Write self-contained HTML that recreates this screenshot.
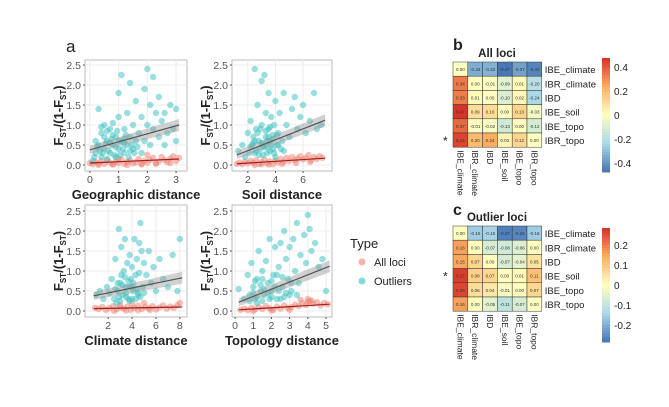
<!DOCTYPE html>
<html><head><meta charset="utf-8"><style>
body{margin:0;background:#fff;}
svg{font-family:"Liberation Sans",sans-serif;}
</style></head><body>
<svg id="s" width="669" height="402" viewBox="0 0 669 402">
<text x="66" y="52" font-size="17" fill="#222">a</text>
<text x="453" y="50" font-size="16" font-weight="bold" fill="#222">b</text>
<text x="453" y="215" font-size="16" font-weight="bold" fill="#222">c</text>
<g>
<text x="350" y="248" font-size="13" fill="#222">Type</text>
<circle cx="362" cy="262" r="3.5" fill="#f08070" opacity="0.6"/>
<text x="374" y="266" font-size="11" fill="#222">All loci</text>
<circle cx="362" cy="281" r="3.5" fill="#35c0c0" opacity="0.6"/>
<text x="374" y="285" font-size="11" fill="#222">Outliers</text>
</g>
</svg>
<script>
// ---------- scatter data ----------
const p1OutX=[0.1,0.2,0.3,0.3,0.4,0.4,0.5,0.5,0.6,0.6,0.7,0.7,0.8,0.8,0.9,0.9,1.0,1.0,1.0,1.1,1.1,1.2,1.2,1.3,1.3,1.4,1.4,1.5,1.5,1.6,1.6,1.7,1.8,1.8,1.9,1.9,2.0,2.0,2.1,2.1,2.2,2.2,2.3,2.4,2.4,2.5,2.6,2.6,2.7,2.8,2.9,3.0,3.0,0.2,0.5,0.7,0.9,1.2,0.35,1.05,0.15,0.25,0.45,0.55,0.65,0.75,0.85,0.95,1.15,1.25,1.35,1.45,1.55,1.65,0.4,0.6,0.8,1.0,1.2,1.4];
const p1OutY=[0.1,0.3,0.5,1.4,0.2,0.8,0.4,1.0,0.6,0.15,0.9,0.3,0.5,1.05,0.7,0.2,0.4,1.2,1.8,0.6,2.25,0.3,0.9,0.5,1.3,0.7,2.05,0.4,1.0,0.6,1.6,0.8,1.2,0.3,1.9,0.6,2.4,1.0,1.5,0.5,2.2,0.9,1.3,0.7,1.7,1.1,0.5,1.3,0.8,1.5,0.9,1.4,0.6,0.6,0.7,0.55,0.45,0.55,0.35,0.25,0.2,0.45,0.3,0.55,0.35,0.65,0.25,0.85,0.4,0.75,0.2,0.5,0.3,0.45,0.95,0.85,0.75,0.6,0.65,0.35];
const p1AllX=[0.0,0.1,0.2,0.3,0.4,0.5,0.6,0.7,0.8,0.9,1.0,1.1,1.2,1.3,1.4,1.5,1.6,1.7,1.8,1.9,2.0,2.1,2.2,2.3,2.4,2.5,2.6,2.7,2.8,2.9,3.0,3.1,0.3,0.8,1.3,1.8,2.3,2.8,1.0,2.0];
const p1AllY=[0.05,0.02,0.08,0.04,0.1,0.03,0.12,0.06,0.02,0.09,0.05,0.14,0.03,0.08,0.11,0.04,0.07,0.15,0.02,0.1,0.06,0.13,0.18,0.05,0.09,0.2,0.12,0.07,0.16,0.22,0.1,0.18,0.0,0.01,0.0,0.02,0.03,0.05,0.15,0.25];
const p2OutX=[1.3,1.6,1.8,2.0,2.1,2.2,2.3,2.4,2.5,2.5,2.6,2.7,2.8,2.9,3.0,3.0,3.1,3.2,3.3,3.3,3.4,3.5,3.5,3.6,3.7,3.8,3.9,4.0,4.1,4.2,4.3,4.5,4.6,4.8,5.0,5.2,5.4,5.6,5.8,6.0,6.2,6.5,6.8,7.0,7.3,2.8,3.2,3.6,4.0,2.4,3.4,3.8,2.2,2.6,3.0,3.4,3.8,4.2,2.7,3.1,3.5,3.9,4.4,2.9,3.3,3.7,4.1,2.5,3.6,4.6];
const p2OutY=[0.35,0.5,0.2,0.8,0.3,1.1,0.5,0.7,2.4,0.3,0.9,1.5,0.6,0.4,2.1,1.0,0.5,2.25,0.7,1.3,0.3,1.8,0.9,0.6,1.2,0.4,1.0,1.6,0.5,0.8,1.3,0.6,1.8,1.0,0.7,1.4,1.7,0.9,1.2,1.5,0.8,1.1,1.8,0.9,1.0,0.25,0.45,0.35,0.2,0.55,0.6,0.75,0.45,0.35,0.55,0.45,0.65,0.5,0.8,0.25,0.7,0.3,0.4,0.9,0.85,0.5,0.75,0.6,0.95,0.35];
const p2AllX=[1.2,1.4,1.6,1.8,2.0,2.2,2.4,2.6,2.8,3.0,3.2,3.4,3.6,3.8,4.0,4.2,4.4,4.6,4.8,5.0,5.2,5.4,5.6,5.8,6.0,6.2,6.4,6.6,6.8,7.0,7.2,7.4,2.5,3.5,4.5,5.5,6.5,3.0];
const p2AllY=[0.03,0.06,0.02,0.08,0.04,0.1,0.05,0.12,0.03,0.07,0.14,0.05,0.09,0.02,0.11,0.06,0.15,0.08,0.18,0.1,0.2,0.12,0.16,0.22,0.14,0.18,0.25,0.12,0.2,0.15,0.22,0.18,0.0,0.01,0.03,0.05,0.08,0.02];
const p3OutX=[1.0,1.3,1.6,1.9,2.1,2.3,2.5,2.6,2.8,2.9,3.0,3.1,3.2,3.3,3.4,3.5,3.6,3.7,3.8,3.9,4.0,4.1,4.2,4.3,4.4,4.5,4.6,4.7,4.8,4.9,5.0,5.2,5.4,5.6,5.8,6.0,6.3,6.6,7.0,7.4,7.8,8.0,3.0,3.5,4.0,4.5,2.7,3.8,2.6,2.9,3.2,3.5,3.8,4.1,4.4,4.7,5.0,3.1,3.4,3.7,4.0,4.3,4.6,2.8];
const p3OutY=[0.4,0.5,0.3,0.6,0.45,0.8,0.3,1.3,0.5,2.05,0.7,1.6,0.4,1.0,1.8,0.6,1.2,0.3,1.4,0.8,1.1,0.5,1.8,0.9,1.3,0.4,1.7,2.2,1.5,0.6,1.2,0.9,1.5,0.7,1.1,0.5,1.3,0.8,0.6,1.4,0.5,1.8,0.25,0.35,0.3,0.45,0.2,0.6,0.55,0.35,0.65,0.45,0.25,0.7,0.55,0.35,0.45,0.9,0.85,0.75,0.6,0.3,0.95,0.7];
const p3AllX=[0.9,1.2,1.5,1.8,2.1,2.4,2.7,3.0,3.3,3.6,3.9,4.2,4.5,4.8,5.1,5.4,5.7,6.0,6.3,6.6,6.9,7.2,7.5,7.8,8.0,2.5,3.5,4.5,5.5,3.0,4.0,5.0];
const p3AllY=[0.08,0.05,0.1,0.03,0.07,0.12,0.04,0.09,0.06,0.11,0.03,0.08,0.13,0.05,0.1,0.07,0.12,0.04,0.09,0.14,0.06,0.11,0.08,0.15,0.2,0.0,0.01,0.02,0.03,0.15,0.18,0.2];
const p4OutX=[0.2,0.5,0.7,0.8,0.9,1.0,1.1,1.2,1.3,1.4,1.5,1.6,1.7,1.8,1.9,2.0,2.1,2.2,2.3,2.4,2.5,2.6,2.7,2.8,2.9,3.0,3.1,3.2,3.3,3.4,3.5,3.6,3.8,3.9,4.0,4.1,4.2,4.4,4.6,4.8,5.0,1.5,2.0,2.5,3.0,1.2,2.8,0.8,1.0,1.2,1.4,1.6,1.8,2.0,2.2,2.4,2.6,1.1,1.5,1.9,2.3,2.7,3.1,3.4];
const p4OutY=[0.55,0.3,0.9,0.4,1.2,0.6,0.3,0.8,1.5,0.5,1.0,0.4,1.25,0.7,1.8,0.5,0.9,1.6,0.3,1.1,1.7,0.6,2.0,1.3,0.8,1.6,0.5,1.8,1.0,2.2,0.7,1.4,1.9,1.2,2.4,2.05,1.5,1.7,1.1,1.3,0.5,0.25,0.35,0.3,0.4,0.2,0.45,0.25,0.45,0.35,0.65,0.55,0.45,0.75,0.6,0.5,0.85,0.75,0.8,0.3,0.9,0.35,0.7,0.4];
const p4AllX=[0.3,0.5,0.7,0.9,1.1,1.3,1.5,1.7,1.9,2.1,2.3,2.5,2.7,2.9,3.1,3.3,3.5,3.7,3.9,4.1,4.3,4.5,4.7,4.9,5.1,1.0,2.0,3.0,4.0,3.6,4.0,4.2];
const p4AllY=[0.03,0.06,0.02,0.08,0.04,0.1,0.05,0.12,0.07,0.03,0.11,0.06,0.14,0.08,0.1,0.16,0.12,0.2,0.15,0.25,0.18,0.22,0.14,0.2,0.17,0.0,0.01,0.03,0.3,0.28,0.22,0.26];
// regression line endpoints [x0,y0,x1,y1]
const p1OutFit=[0,0.38,3.1,1.0], p1AllFit=[0,0.05,3.1,0.15];
const p2OutFit=[1.2,0.25,7.6,1.12], p2AllFit=[1.2,0.03,7.6,0.17];
const p3OutFit=[0.8,0.38,8.2,0.83], p3AllFit=[0.8,0.06,8.2,0.10];
const p4OutFit=[0.2,0.22,5.2,1.12], p4AllFit=[0.2,0.03,5.2,0.17];
const p1Ticks=[0,1,2,3], p2Ticks=[2,4,6], p3Ticks=[2,4,6,8], p4Ticks=[0,1,2,3,4,5];
const yTicks=[0,0.5,1,1.5,2,2.5];
// ---------- heatmap data ----------
const hmLabels=["IBE_climate","IBR_climate","IBD","IBE_soil","IBE_topo","IBR_topo"];
const allLoci=[[0.00,-0.34,-0.33,-0.47,-0.37,-0.44],[0.34,0.00,-0.01,-0.09,0.01,-0.20],[0.33,0.01,0.00,-0.10,0.02,-0.24],[0.47,0.09,0.10,0.00,0.13,-0.03],[0.37,-0.01,-0.02,-0.13,0.00,-0.12],[0.44,0.20,0.24,0.03,0.12,0.00]];
const outLoci=[[0.00,-0.16,-0.15,-0.27,-0.26,-0.16],[0.16,0.00,-0.07,-0.08,-0.06,-0.00],[0.15,0.07,0.00,-0.07,-0.04,0.05],[0.27,0.08,0.07,0.00,0.01,0.11],[0.26,0.06,0.04,-0.01,0.00,0.07],[0.16,0.00,-0.05,-0.11,-0.07,0.00]];
const allTicks=[0.4,0.2,0,-0.2,-0.4], outTicks=[0.2,0.1,0,-0.1,-0.2];

const NS="http://www.w3.org/2000/svg", svg=document.getElementById('s');
function mk(t,a,p){const e=document.createElementNS(NS,t);for(const k in a)e.setAttribute(k,a[k]);(p||svg).appendChild(e);return e;}

function scatter(name,box,xd,xt,outX,outY,allX,allY,outFit,allFit,title,ylabX){
  const g=mk('g',{});
  
  
  const [L,T,R,B,y0]=box;
  const sx=v=>L+(v-xd[0])/(xd[1]-xd[0])*(R-L);
  const sy=v=>y0-v*40;
  mk('rect',{x:L,y:T,width:R-L,height:B-T,fill:'#fff',stroke:'#bbb'},g);
  yTicks.forEach(v=>{mk('line',{x1:L,x2:R,y1:sy(v),y2:sy(v),stroke:'#ececec'},g);
    const t=mk('text',{x:L-4,y:sy(v)+4,'font-size':10.5,fill:'#555','text-anchor':'end'},g);t.textContent=v.toFixed(1);
    mk('line',{x1:L-2,x2:L,y1:sy(v),y2:sy(v),stroke:'#555'},g);});
  xt.forEach(v=>{mk('line',{x1:sx(v),x2:sx(v),y1:T,y2:B,stroke:'#ececec'},g);
    mk('line',{x1:sx(v),x2:sx(v),y1:B,y2:B+2,stroke:'#555'},g);
    const t=mk('text',{x:sx(v),y:B+12,'font-size':10.5,fill:'#555','text-anchor':'middle'},g);t.textContent=v;});
  allX.forEach((x,i)=>{const c=mk('circle',{cx:sx(x),cy:sy(allY[i]),r:3.2,fill:'#f08070',opacity:0.5},g);
    
    });
  outX.forEach((x,i)=>{const c=mk('circle',{cx:sx(x),cy:sy(outY[i]),r:3.2,fill:'#35c0c0',opacity:0.5},g);
    
    });
  const [a,b,c2,d]=outFit;
  mk('polygon',{points:`${sx(a)},${sy(b)-4} ${sx(c2)},${sy(d)-6} ${sx(c2)},${sy(d)+6} ${sx(a)},${sy(b)+4}`,fill:'#999',opacity:0.45},g);
  const l1=mk('line',{x1:sx(a),y1:sy(b),x2:sx(c2),y2:sy(d),stroke:'#555','stroke-width':1.2},g);
  
  
  const l2=mk('line',{x1:sx(allFit[0]),y1:sy(allFit[1]),x2:sx(allFit[2]),y2:sy(allFit[3]),stroke:'#a02020','stroke-width':1.2},g);
  
  
  const tt=mk('text',{x:(L+R)/2,y:B+28,'font-size':13,'font-weight':'bold',fill:'#222','text-anchor':'middle'},g);
  tt.textContent=title;
  
  
  const yt=mk('text',{x:0,y:0,'font-size':13,'font-weight':'bold',fill:'#222','text-anchor':'middle',transform:`translate(${ylabX},${(T+B)/2}) rotate(-90)`},g);
  yt.innerHTML='F<tspan font-size="8" dy="3">ST</tspan><tspan dy="-3">/(1-F</tspan><tspan font-size="8" dy="3">ST</tspan><tspan dy="-3">)</tspan>';
  
  
}
scatter('scatter-geographic',[85,60,187,171,165],[-0.17,3.38],p1Ticks,p1OutX,p1OutY,p1AllX,p1AllY,p1OutFit,p1AllFit,'Geographic distance',63);
scatter('scatter-soil',[232,60,332,171,165],[0.85,8.1],p2Ticks,p2OutX,p2OutY,p2AllX,p2AllY,p2OutFit,p2AllFit,'Soil distance',210);
scatter('scatter-climate',[85,205,187,317,311],[0.06,8.6],p3Ticks,p3OutX,p3OutY,p3AllX,p3AllY,p3OutFit,p3AllFit,'Climate distance',63);
scatter('scatter-topology',[232,205,332,317,311],[-0.17,5.33],p4Ticks,p4OutX,p4OutY,p4AllX,p4AllY,p4OutFit,p4AllFit,'Topology distance',210);

function col(v,m){let t=Math.max(-1,Math.min(1,v/m));
  const lerp=(a,b,f)=>a.map((x,i)=>Math.round(x+(b[i]-x)*f));
  const Y=[255,255,191],O=[253,174,97],Rd=[215,48,39],Lb=[171,217,233],Bl=[69,117,180];
  let c=t>=0?(t<0.5?lerp(Y,O,t*2):lerp(O,Rd,(t-0.5)*2)):(t>-0.5?lerp(Y,Lb,-t*2):lerp(Lb,Bl,(-t-0.5)*2));
  return `rgb(${c})`;}
function heat(name,M,top,title,ticks,barTop,barBot,maxV,starRow){
  const g=mk('g',{});
  
  
  const L=453,cw=14.8,ch=14.2;
  const tt=mk('text',{x:497,y:top-5,'font-size':11.5,'font-weight':'bold',fill:'#222','text-anchor':'middle'},g);tt.textContent=title;
  M.forEach((row,r)=>row.forEach((v,c)=>{
    const x=L+c*cw,y=top+r*ch;
    const rc=mk('rect',{x,y,width:cw,height:ch,fill:col(v,maxV),stroke:'#333','stroke-width':0.5},g);
    
    
    const t=mk('text',{x:x+cw/2,y:y+ch/2+2,'font-size':4.5,fill:'#333','text-anchor':'middle'},g);t.textContent=v.toFixed(2);}));
  hmLabels.forEach((s,i)=>{const t=mk('text',{x:L+6*cw+3,y:top+i*ch+ch/2+4,'font-size':9.5,fill:'#222'},g);t.textContent=s;
    const c=mk('text',{x:0,y:0,'font-size':8.5,fill:'#222',transform:`translate(${L+i*cw+cw/2-3},${top+6*ch+3}) rotate(90)`},g);c.textContent=s;});
  const st=mk('text',{x:443,y:top+starRow*ch+ch/2+5,'font-size':12,fill:'#222'},g);st.textContent='*';
  const n=40;for(let i=0;i<n;i++){const v=maxV-(2*maxV)*(i+0.5)/n;
    mk('rect',{x:602,y:barTop+(barBot-barTop)*i/n,width:8,height:(barBot-barTop)/n+0.5,fill:col(v,maxV)},g);}
  const sy=v=>barTop+(maxV-v)/(2*maxV)*(barBot-barTop);
  ticks.forEach(v=>{const t=mk('text',{x:614,y:sy(v)+4,'font-size':10,fill:'#222'},g);t.textContent=v;});
}
heat('heatmap-all-loci',allLoci,62,'All loci',allTicks,58,172,0.475,5);
heat('heatmap-outlier-loci',outLoci,226,'Outlier loci',outTicks,228,342,0.285,3);
</script>
</body></html>
